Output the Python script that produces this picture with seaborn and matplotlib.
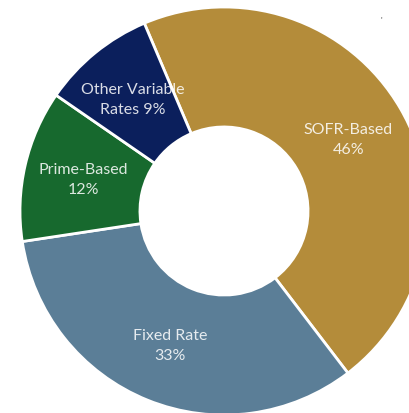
import matplotlib
matplotlib.use("Agg")
import matplotlib.pyplot as plt
import seaborn as sns

categories = ["SOFR-Based", "Fixed Rate", "Prime-Based", "Other Variable Rates"]
values = [46, 33, 12, 9]
labels = ["SOFR-Based\n46%", "Fixed Rate\n33%", "Prime-Based\n12%", "Other Variable\nRates 9%"]
colors = ["#B48C3A", "#5B7E97", "#17692E", "#0B1F5C"]

sns.set_theme(style="white")
plt.rcParams["font.family"] = ["Lato", "DejaVu Sans"]

fig = plt.figure(figsize=(4.10, 4.14), dpi=100)
ax = fig.add_axes([20/410, -2/414, 408/410, 408/414])
palette = sns.color_palette(colors)

wedges, texts = ax.pie(
    values,
    labels=labels,
    colors=palette,
    startangle=113,
    counterclock=False,
    radius=1.0,
    labeldistance=0.706,
    wedgeprops=dict(width=0.588, edgecolor="white", linewidth=2),
    textprops=dict(fontsize=11.5, color="white", alpha=0.85),
)
for t in texts:
    t.set_horizontalalignment("center")
    t.set_verticalalignment("center")
    t.set_linespacing(1.55)
ax.set_xlim(-1, 1)
ax.set_ylim(-1, 1)
ax.set_aspect("equal")
ax.axis("off")

fig.text(0.927, 0.945, "'", color="#444444", fontsize=6)

fig.savefig("out.png", dpi=100, facecolor="white")
